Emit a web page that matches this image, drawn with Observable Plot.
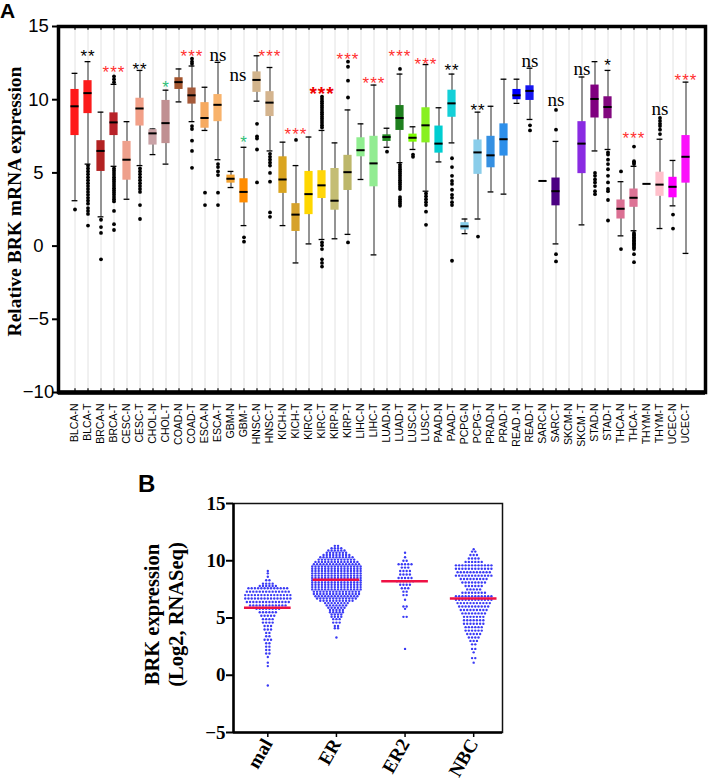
<!DOCTYPE html>
<html><head><meta charset="utf-8">
<script src="https://cdn.jsdelivr.net/npm/d3@7"></script>
<script src="https://cdn.jsdelivr.net/npm/@observablehq/plot@0.6"></script>
<style>
body{margin:0;background:#fff;}
#wrap{position:relative;width:708px;height:784px;overflow:hidden;background:#fff;}
#pa{position:absolute;left:0;top:0;}
#pb{position:absolute;left:0;top:470px;}
.tag{position:absolute;font-family:"Liberation Sans",Arial,sans-serif;font-weight:bold;line-height:1;}
</style></head><body>
<div id="wrap"><div id="pa"></div><div id="pb"></div>
<div class="tag" style="left:0px;top:0px;font-size:21px;">A</div>
<div class="tag" style="left:138px;top:472px;font-size:24px;">B</div>
</div>
<script>
// ---------- Panel A data ----------
const cats = ["BLCA-N","BLCA-T","BRCA-N","BRCA-T","CESC-N","CESC-T","CHOL-N","CHOL-T","COAD-N","COAD-T","ESCA-N","ESCA-T","GBM-N","GBM-T","HNSC-N","HNSC-T","KICH-N","KICH-T","KIRC-N","KIRC-T","KIRP-N","KIRP-T","LIHC-N","LIHC-T","LUAD-N","LUAD-T","LUSC-N","LUSC-T","PAAD-N","PAAD-T","PCPG-N","PCPG-T","PRAD-N","PRAD-T","READ -N","READ-T","SARC-N","SARC-T","SKCM-N","SKCM -T","STAD-N","STAD-T","THCA-N","THCA-T","THYM-N","THYM-T","UCEC-N","UCEC-T"];
const lo  = [3.1,5.6,2.0,5.45,3.2,5.5,6.25,5.6,9.85,8.5,7.9,5.9,4.0,1.4,9.9,6.5,1.4,-1.15,0.15,0.45,0.5,0.8,4.55,-0.6,6.75,5.7,6.6,3.75,5.75,7.05,0.85,1.85,3.7,3.55,9.75,8.65,4.45,0.15,null,1.45,6.5,6.6,0.7,1.05,4.25,1.2,2.75,-0.5];
const q1  = [7.55,9.05,5.1,7.55,4.5,8.2,6.9,7.0,10.7,9.7,8.05,8.5,4.3,2.95,10.5,8.85,3.6,1.0,2.15,3.25,2.45,3.8,6.1,4.05,7.15,7.9,7.1,7.05,6.35,8.8,1.1,4.9,5.35,6.15,10.0,9.95,4.45,2.75,null,4.95,8.75,8.7,1.85,2.65,4.25,3.4,3.3,4.3];
const med = [9.55,10.45,6.5,8.45,5.9,9.4,7.7,8.4,11.2,10.3,8.75,9.65,4.6,3.7,11.35,9.8,4.55,2.15,3.55,4.15,3.1,5.05,6.55,5.65,7.45,8.75,7.4,8.25,7.0,9.75,1.35,6.4,6.2,7.3,10.3,10.6,4.45,3.75,null,7.0,10.05,9.5,2.55,3.3,4.25,4.2,4.05,6.1];
const q3  = [10.7,11.3,7.2,9.1,7.15,10.1,7.95,9.95,11.5,10.8,9.8,10.35,4.85,4.6,11.9,10.55,6.1,2.9,5.1,5.15,5.3,6.2,7.4,7.5,7.6,9.6,7.65,9.45,8.2,10.65,1.6,7.25,7.5,8.35,10.7,10.95,4.45,4.65,null,8.5,11.0,10.2,3.15,3.9,4.25,5.05,4.7,7.55];
const hi  = [11.8,12.6,9.15,11.05,8.5,12.0,8.0,10.65,12.1,12.3,10.85,12.55,5.1,6.75,13.0,12.2,7.1,5.5,7.45,7.9,7.05,9.3,8.35,11.0,8.05,11.75,8.15,12.4,9.45,11.75,1.85,9.15,9.55,11.4,11.4,12.15,4.45,7.15,null,11.55,12.6,12.0,4.4,5.45,4.25,7.3,5.85,11.2];
const outliers = [
 [2.5],
 [5.5,5.3,5.1,4.9,4.7,4.5,4.3,4.1,3.9,3.7,3.5,3.3,3.1,2.9,2.6,2.4,2.2,1.4],
 [1.8,1.3,0.9,-0.9],
 [11.6,11.4,11.2,5.3,5.15,5.0,4.85,4.7,4.55,4.4,4.25,4.1,3.95,3.8,3.65,3.5,3.35,3.2,3.05,2.4,1.5,1.1],
 [],
 [5.3,5.1,4.9,4.7,4.5,4.3,4.1,3.9,3.7,2.8,1.85],
 [],[],
 [],
 [12.8,12.6,12.45,8.2,8.0,7.2,6.5,5.35],
 [3.65,2.8],
 [5.6,5.4,5.1,4.85,3.65,2.8],
 [],
 [0.6,0.3],
 [8.35,7.5,7.35,6.6,4.35],
 [6.3,6.1,5.9,5.7,5.5,5.0,4.4,2.3,2.0],
 [],
 [7.25],
 [],
 [10.2,10.05,9.9,9.75,9.6,9.45,9.3,9.15,9.0,8.85,8.7,8.55,8.4,8.25,8.1,0.25,0.05,-0.2,-0.9,-1.15,-1.4],
 [],
 [12.6,12.25,11.3,10.15,0.25],
 [],[],
 [6.45],
 [12.1,5.55,5.4,5.25,5.1,4.95,4.8,4.65,4.5,4.35,4.2,4.05,3.9,3.35,3.2,3.05,2.9,2.75],
 [6.25,6.1],
 [3.6,3.4,3.2,3.0,2.8,2.35,1.45],
 [],
 [6.0,5.4,4.8,4.45,4.25,3.85,3.5,3.3,3.0,2.8,-1.0],
 [],
 [0.65],
 [],[],
 [],
 [8.25,7.9],
 [],
 [9.3,7.95,-0.55,-1.05],
 [],
 [],
 [5.0,4.8,4.55,4.35,4.1,3.75,3.55],
 [6.4,6.25,5.9,5.6,5.25,4.8,4.35,3.9,3.75,3.15,1.75],
 [5.1,-0.2],
 [6.8,5.8,5.7,5.6,0.9,0.8,0.7,0.6,0.5,0.4,0.3,0.2,0.1,0.0,-0.1,-0.2,-0.55,-1.1],
 [],
 [8.75,8.55,8.35,8.2,7.95,7.65],
 [2.15,1.2],
 []
];
const boxColors = ["#ff1a1a","#fb1c1c","#b22222","#b82229","#eea08c","#f2a088","#c9a2a6","#c09092","#a3552e","#a55a3a","#f6aa60","#f8b36c","#f2a232","#ff8c00","#d2b48c","#d4b48e","#daa520","#d6a22c","#ffd700","#ffd60a","#c4bd74","#bdb76b","#90ee90","#92ec92","#228b22","#1e7f1e","#7cfc00","#88f020","#00ced1","#14d0d8","#87ceeb","#8acdea","#3590e2","#2d8fea","#0000ff","#1616f0","#000000","#4b0082","#000000","#8a2be2","#800080","#82087f","#db7093","#dd7496","#000000","#ffc0cb","#ff00ff","#fb10fb"];
// significance annotations
const sigCat  = ["BLCA-T","BRCA-T","CESC-T","CHOL-T","COAD-T","ESCA-T","GBM-T","GBM-T","HNSC-T","KICH-T","KIRC-T","KIRP-T","LIHC-T","LUAD-T","LUSC-T","PAAD-T","PCPG-T","READ-T","SARC-T","SKCM -T","STAD-T","THCA-T","THYM-T","UCEC-T"];
const sigY    = [13.2,12.15,12.3,11.1,13.25,13.05,7.35,11.7,13.25,7.9,10.65,13.0,11.4,13.25,12.65,12.25,9.55,12.65,10.0,12.1,12.6,7.6,9.35,11.55];
const sigText = ["**","***","**","*","***","ns","*","ns","***","***","***","***","***","***","***","**","**","ns","ns","ns","*","***","ns","***"];
const sigKind = ["black","red","black","green","red","black","green","black","red","red","redbold","red","red","red","red","black","black","black","black","black","black","red","black","red"];
const yTicksA = [-10,-5,0,5,10,15];

// ---------- Panel B data ----------
const bGroups = ["mal","ER","ER2","NBC"];
const malRows = [[9.1,1],[8.9,1],[8.6,1],[8.3,2],[8.0,4],[7.8,6],[7.6,13],[7.3,14],[7.0,15],[6.7,15],[6.4,14],[6.1,12],[5.8,8],[5.5,6],[5.2,5],[4.9,4],[4.6,4],[4.3,3],[4.0,3],[3.7,2],[3.4,2],[3.1,3],[2.8,2],[2.5,2],[2.2,2],[1.9,2],[1.6,1],[1.1,1],[0.8,1],[-0.9,1]];
const erRows  = [[11.3,2],[11.1,4],[10.9,6],[10.7,7],[10.5,9],[10.3,11],[10.1,12],[9.9,14],[9.7,15],[9.5,16],[9.3,16],[9.1,16],[8.9,16],[8.7,16],[8.5,16],[8.3,16],[8.1,16],[7.9,16],[7.7,16],[7.5,16],[7.3,15],[7.1,15],[6.9,14],[6.7,13],[6.5,11],[6.3,8],[6.1,7],[5.9,6],[5.7,5],[5.5,5],[5.3,4],[5.1,4],[4.9,3],[4.6,3],[4.3,2],[4.1,2],[3.3,1]];
const er2Rows = [[10.7,1],[10.3,1],[10.0,2],[9.7,5],[9.4,3],[9.1,4],[8.8,4],[8.5,5],[8.2,6],[7.9,4],[7.6,3],[7.3,2],[7.0,2],[6.6,1],[6.0,2],[5.8,1],[5.1,2],[2.3,1]];
const nbcRows = [[11.0,1],[10.8,2],[10.5,3],[10.2,4],[9.9,6],[9.6,12],[9.3,12],[9.0,11],[8.7,12],[8.4,9],[8.1,8],[7.8,6],[7.5,5],[7.2,8],[6.9,12],[6.6,12],[6.3,11],[6.0,10],[5.7,9],[5.4,8],[5.1,7],[4.8,7],[4.5,7],[4.2,6],[3.9,6],[3.6,5],[3.3,4],[3.0,3],[2.7,2],[2.3,2],[2.0,1],[1.5,2],[1.1,1]];
const bMedians = [5.9,8.35,8.2,6.7];
const yTicksB = [-5,0,5,10,15];

// ---------- Build Panel A ----------
const boxes = cats.map((c,i)=>({cat:c, lo:lo[i], q1:q1[i], med:med[i], q3:q3[i], hi:hi[i]})).filter(d=>d.med!=null);
const realBoxes = boxes.filter(d=>d.hi>d.lo);
const outPts = cats.flatMap((c,i)=>outliers[i].map(v=>({cat:c, v})));
const sig = sigCat.map((c,i)=>({cat:c, v:sigY[i], t:sigText[i], k:sigKind[i]}));
const star = k => sig.filter(d=>d.k===k && d.t!=="ns");
const nsLab = sig.filter(d=>d.t==="ns");
const serif = "'Liberation Serif', 'Times New Roman', serif";

const plotA = Plot.plot({
  width:708, height:470, marginLeft:58, marginRight:3, marginTop:26, marginBottom:78,
  x:{type:"band", domain:cats, range:[60.33,700.33], padding:0},
  y:{domain:[-10,15]},
  color:{domain:cats, range:boxColors},
  style:{fontFamily:"'Liberation Sans', Arial, sans-serif", background:"white", color:"#000"},
  marks:[
    Plot.ruleX(cats, {x:d=>d, stroke:"#e2e2e2", strokeWidth:1}),
    Plot.ruleX(cats, {x:d=>d, y1:15, y2:14.75, stroke:"#000", strokeWidth:1.2}),
    Plot.ruleX(cats, {x:d=>d, y1:-10, y2:-9.75, stroke:"#000", strokeWidth:1.2}),
    Plot.ruleX(realBoxes, {x:"cat", y1:"lo", y2:"hi", stroke:"#7d7d7d", strokeWidth:1.6}),
    Plot.tickY(realBoxes, {x:"cat", y:"hi", insetLeft:3.6, insetRight:3.6, stroke:"#000", strokeWidth:1.3}),
    Plot.tickY(realBoxes, {x:"cat", y:"lo", insetLeft:3.6, insetRight:3.6, stroke:"#000", strokeWidth:1.3}),
    Plot.barY(realBoxes, {x:"cat", y1:"q1", y2:"q3", fill:"cat", insetLeft:2.4, insetRight:2.4}),
    Plot.tickY(boxes, {x:"cat", y:"med", insetLeft:2.4, insetRight:2.4, stroke:"#000", strokeWidth:2}),
    Plot.dot(outPts, {x:"cat", y:"v", r:1.9, fill:"#000", stroke:"none"}),
    Plot.text(star("red"), {x:"cat", y:"v", text:"t", fill:"#ff3030", fontSize:17, dy:4}),
    Plot.text(star("redbold"), {x:"cat", y:"v", text:"t", fill:"#ee0000", fontSize:19, fontWeight:"bold", dy:4}),
    Plot.text(star("black"), {x:"cat", y:"v", text:"t", fill:"#000", fontSize:17, dy:4}),
    Plot.text(star("green"), {x:"cat", y:"v", text:"t", fill:"#2fc07a", fontSize:17, dy:4}),
    Plot.text(nsLab.filter(d=>d.v>=11.7 && d.cat==="GBM-T"), {x:"cat", y:"v", text:"t", fill:"#000", fontSize:19, fontFamily:serif, dx:-6}),
    Plot.text(nsLab.filter(d=>!(d.v>=11.7 && d.cat==="GBM-T")), {x:"cat", y:"v", text:"t", fill:"#000", fontSize:19, fontFamily:serif}),
    Plot.frame({stroke:"#000", strokeWidth:3.5}),
    Plot.ruleY([-10], {stroke:"#000", strokeWidth:4.5}),
    Plot.axisY({ticks:yTicksA, tickSize:6, tickPadding:14, textAnchor:"middle", fontSize:18.5, strokeWidth:2, label:null}),
    Plot.axisX({tickSize:0, tickRotate:-90, tickPadding:11, fontSize:10.5, label:null}),
    Plot.text(["Relative BRK mRNA expression"], {text:d=>d, frameAnchor:"left", textAnchor:"middle", lineAnchor:"middle", rotate:-90, dx:-44, dy:-8,
      fontFamily:serif, fontWeight:"bold", fontSize:19.5, fill:"#000"})
  ]
});
// slight spacing between significance asterisks, as in the original figure
plotA.querySelectorAll("text").forEach(t => { if (/^\*+$/.test(t.textContent)) t.style.letterSpacing = "1px"; });
document.getElementById("pa").appendChild(plotA);

// ---------- Build Panel B ----------
const bStep = 0.047;
const bRows = [malRows, erRows, er2Rows, nbcRows];
const bPts = bRows.flatMap((rows,g)=>rows.flatMap(([v,n])=>d3.range(n).map(k=>({x:g+1+(k-(n-1)/2)*bStep, v}))));
const bMed = bMedians.map((v,i)=>({g:i+1, v}));

const plotB = Plot.plot({
  width:708, height:314, marginLeft:233, marginRight:206, marginTop:33, marginBottom:52,
  x:{domain:[0.5,4.42]},
  y:{domain:[-5,15]},
  style:{fontFamily:serif, fontWeight:"bold", background:"white", color:"#000"},
  marks:[
    Plot.dot(bPts, {x:"x", y:"v", r:1.2, fill:"#3a3af5", stroke:"none"}),
    Plot.ruleY(bMed, {y:"v", x1:d=>d.g-0.34, x2:d=>d.g+0.34, stroke:"#ee1144", strokeWidth:2.5}),
    Plot.frame({stroke:"#111", strokeWidth:1.5}),
    Plot.ruleX([0.5], {stroke:"#000", strokeWidth:2.5}),
    Plot.ruleY([-5], {stroke:"#000", strokeWidth:2.5}),
    Plot.axisY({ticks:yTicksB, tickSize:7, tickPadding:1, fontSize:19, strokeWidth:2, label:null}),
    Plot.axisX({ticks:[1,2,3,4], tickFormat:d=>bGroups[d-1], tickSize:5, tickRotate:-60, tickPadding:3, fontSize:19, strokeWidth:1.5, label:null}),
    Plot.text(["BRK expression\n(Log2, RNASeq)"], {text:d=>d, frameAnchor:"left", textAnchor:"middle", lineAnchor:"middle", rotate:-90, dx:-70.5, dy:-3.5, lineHeight:1.17,
      fontSize:20.5, fontWeight:"bold", fill:"#000"})
  ]
});
document.getElementById("pb").appendChild(plotB);
</script>
</body></html>
